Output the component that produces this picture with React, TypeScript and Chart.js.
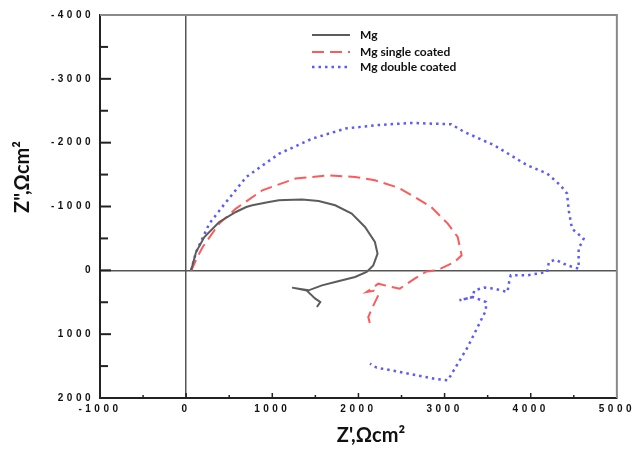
import React, { useEffect, useRef } from 'react';
import { Chart, registerables } from 'chart.js';

Chart.register(...registerables);

// Axis ranges / ticks
const xTickValues = [-1000, 0, 1000, 2000, 3000, 4000, 5000];
const yTickValues = [-4000, -3000, -2000, -1000, 0, 1000, 2000];
const xTitle = "Z',Ωcm²";
const yTitle = 'Z",Ωcm²';
const seriesNames = ['Mg', 'Mg single coated', 'Mg double coated'];

// Mg (uncoated)
const mgX = [58, 115, 211, 384, 577, 698, 768, 961, 1076, 1153, 1346, 1538, 1730, 1922, 2076, 2191, 2222, 2172, 2095, 1961, 1730, 1576, 1422, 1230, 1400, 1499, 1557, 1518];
const mgY = [0, -287, -522, -757, -914, -992, -1019, -1071, -1097, -1100, -1108, -1086, -1019, -889, -679, -444, -261, -78, 26, 105, 183, 235, 313, 271, 318, 444, 496, 575];

// Mg single coated
const singleX = [58, 120, 192, 384, 577, 884, 1269, 1653, 1961, 2191, 2461, 2653, 2845, 3037, 3152, 3198, 3114, 2960, 2850, 2787, 2653, 2480, 2384, 2230, 2153, 2095, 2180, 2230, 2170, 2114, 2134];
const singleY = [10, -180, -366, -732, -967, -1254, -1437, -1489, -1462, -1411, -1296, -1149, -992, -732, -522, -235, -130, -30, 10, 20, 130, 287, 261, 209, 287, 339, 320, 392, 560, 732, 836];

// Mg double coated
const doubleX = [58, 115, 269, 440, 698, 1082, 1466, 1851, 2197, 2614, 3076, 3229, 3576, 3960, 4191, 4345, 4422, 4441, 4479, 4614, 4556, 4556, 4422, 4287, 4210, 4191, 3960, 3768, 3749, 3730, 3576, 3460, 3345, 3326, 3172, 3326, 3480, 3480, 3268, 3037, 2883, 2384, 2211, 2134];
const doubleY = [0, -287, -732, -1030, -1462, -1829, -2064, -2221, -2273, -2309, -2288, -2168, -1959, -1646, -1516, -1332, -1202, -940, -654, -496, -340, -26, -78, -167, -130, 26, 78, 78, 183, 339, 287, 271, 313, 418, 470, 418, 496, 627, 1202, 1724, 1698, 1567, 1525, 1462];

const toPoints = (xs: number[], ys: number[]) => xs.map((x, i) => ({ x, y: ys[i] }));

const TICK_FONT = { family: '"Liberation Sans", Arial, sans-serif', size: 10, weight: 'bold' as const };

const decorPlugin = {
  id: 'decor',
  beforeDraw(chart: any) {
    const ctx = chart.ctx;
    try { (ctx as any).letterSpacing = '3.5px'; } catch (e) {}
  },
  beforeDatasetsDraw(chart: any) {
    const ctx = chart.ctx;
    try { (ctx as any).letterSpacing = '0px'; } catch (e) {}
    const { left, right, top, bottom } = chart.chartArea;
    const xs = chart.scales.x;
    const ys = chart.scales.y;
    ctx.save();
    // frame top and right
    ctx.strokeStyle = '#8a8a8a';
    ctx.lineWidth = 2;
    ctx.beginPath();
    ctx.moveTo(left, top);
    ctx.lineTo(right, top);
    ctx.lineTo(right, bottom);
    ctx.stroke();
    // inner tick marks
    ctx.strokeStyle = '#222';
    ctx.lineWidth = 2;
    for (let v = -4000; v <= 2000; v += 500) {
      if (v === -4000 || v === 2000) continue;
      const p = ys.getPixelForValue(v);
      const len = v % 1000 === 0 ? 11 : 8;
      ctx.beginPath();
      ctx.moveTo(left, p);
      ctx.lineTo(left + len, p);
      ctx.stroke();
    }
    ctx.lineWidth = 1.5;
    for (let v = -500; v < 5000; v += 500) {
      const p = xs.getPixelForValue(v);
      const len = v % 1000 === 0 ? 5 : 3;
      ctx.beginPath();
      ctx.moveTo(p, bottom);
      ctx.lineTo(p, bottom - len);
      ctx.stroke();
    }
    ctx.restore();
  },
  afterDraw(chart: any) {
    const ctx = chart.ctx;
    ctx.save();
    try { (ctx as any).letterSpacing = '0px'; } catch (e) {}
    // legend
    const ds = chart.data.datasets;
    const rowsY = [35, 52, 67];
    ds.forEach((d: any, i: number) => {
      const y = rowsY[i];
      ctx.save();
      ctx.strokeStyle = d.borderColor;
      ctx.lineWidth = d.borderWidth;
      ctx.setLineDash(d.borderDash || []);
      ctx.beginPath();
      ctx.moveTo(312, y);
      ctx.lineTo(350, y);
      ctx.stroke();
      ctx.restore();
      ctx.fillStyle = '#111';
      ctx.font = 'bold 12px Lato, "Open Sans", sans-serif';
      ctx.textAlign = 'left';
      ctx.textBaseline = 'middle';
      ctx.fillText(d.label, 360, y);
    });
    // axis titles
    ctx.fillStyle = '#111';
    ctx.font = 'bold 20px Lato, "Open Sans", sans-serif';
    ctx.textAlign = 'center';
    ctx.textBaseline = 'middle';
    ctx.fillText(xTitle, 371, 436);
    ctx.translate(23, 177);
    ctx.rotate(-Math.PI / 2);
    ctx.fillText(yTitle, 0, 0);
    ctx.restore();
  },
};

export default function App() {
  const ref = useRef<HTMLCanvasElement | null>(null);
  useEffect(() => {
    if (!ref.current) return;
    const chart = new Chart(ref.current, {
      type: 'scatter',
      data: {
        datasets: [
          {
            label: seriesNames[0],
            data: toPoints(mgX, mgY),
            showLine: true,
            borderColor: '#5c5c5c',
            borderWidth: 2,
            pointRadius: 0,
            tension: 0,
          },
          {
            label: seriesNames[1],
            data: toPoints(singleX, singleY),
            showLine: true,
            borderColor: '#ff5a5a',
            borderWidth: 2,
            borderDash: [12, 6],
            pointRadius: 0,
            tension: 0,
          },
          {
            label: seriesNames[2],
            data: toPoints(doubleX, doubleY),
            showLine: true,
            borderColor: '#5a5aff',
            borderWidth: 2.5,
            borderDash: [2.5, 4],
            pointRadius: 0,
            tension: 0,
          },
        ] as any,
      },
      options: {
        animation: false,
        responsive: false,
        maintainAspectRatio: false,
        layout: { padding: { left: 0, top: 15, right: 16, bottom: 0 } },
        plugins: { legend: { display: false }, tooltip: { enabled: false } },
        scales: {
          x: {
            type: 'linear',
            min: -1000,
            max: 5000,
            afterFit: (s: any) => { s.height = 58; },
            afterBuildTicks: (s: any) => { s.ticks = xTickValues.map((v) => ({ value: v })); },
            ticks: {
              font: TICK_FONT, color: '#111', padding: 5, maxRotation: 0, autoSkip: false,
              callback: (v: any) => String(v),
            },
            grid: {
              drawTicks: false,
              lineWidth: 1.5,
              color: (c: any) => (c.tick && c.tick.value === 0 ? '#555' : 'rgba(0,0,0,0)'),
            },
            border: { display: true, color: '#222', width: 2 },
          },
          y: {
            type: 'linear',
            reverse: true,
            min: -4000,
            max: 2000,
            afterFit: (s: any) => { s.width = 100; },
            afterBuildTicks: (s: any) => { s.ticks = yTickValues.map((v) => ({ value: v })); },
            ticks: {
              font: TICK_FONT, color: '#111', padding: 6, autoSkip: false,
              callback: (v: any) => String(v),
            },
            grid: {
              drawTicks: false,
              lineWidth: 1.5,
              color: (c: any) => (c.tick && c.tick.value === 0 ? '#555' : 'rgba(0,0,0,0)'),
            },
            border: { display: true, color: '#222', width: 2 },
          },
        },
      } as any,
      plugins: [decorPlugin],
    });
    return () => chart.destroy();
  }, []);
  return (
    <div style={{ position: 'fixed', left: 0, top: 0, width: 633, height: 456, background: '#fff' }}>
      <canvas ref={ref} width={633} height={456} style={{ width: 633, height: 456, display: 'block' }} />
    </div>
  );
}
